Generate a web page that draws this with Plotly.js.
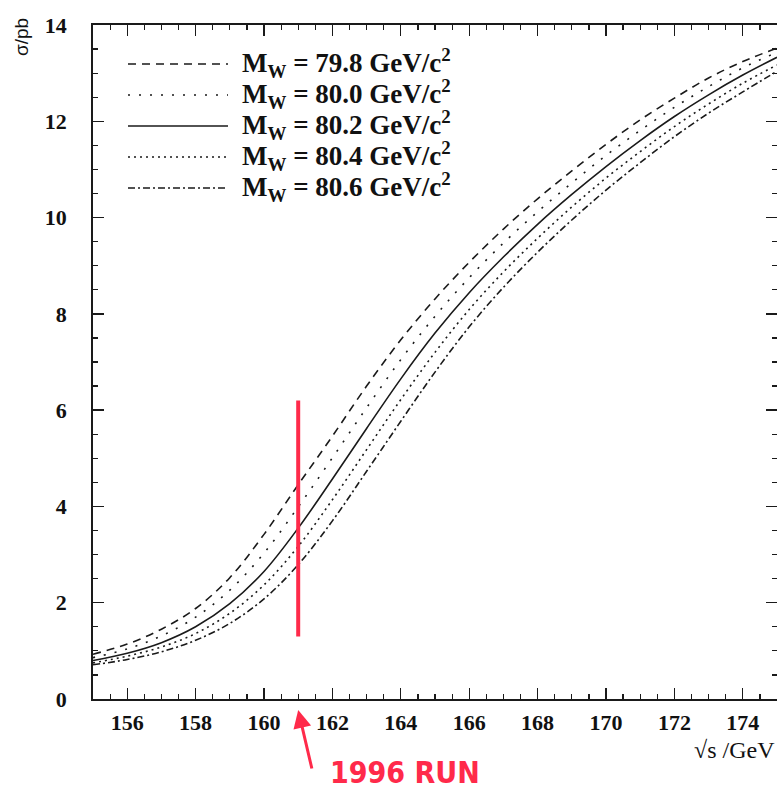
<!DOCTYPE html>
<html>
<head>
<meta charset="utf-8">
<script src="https://cdn.plot.ly/plotly-3.0.1.min.js"></script>
<style>html,body{margin:0;padding:0;background:#fff;}#chart{width:777px;height:793px;}</style>
</head>
<body>
<div id="chart"></div>
<script>
// sqrt(s) in GeV
const sqrtS = [155,156,157,158,159,160,161,162,163,164,165,166,167,168,169,170,171,172,173,174,175];
// cross sections in pb for each W mass
const sigma798 = [0.93,1.14,1.45,1.88,2.52,3.42,4.45,5.46,6.50,7.46,8.31,9.07,9.76,10.39,10.97,11.52,12.03,12.48,12.90,13.24,13.52];
const sigma800 = [0.86,1.04,1.31,1.70,2.26,3.03,3.99,5.01,6.05,7.05,7.95,8.75,9.47,10.12,10.72,11.29,11.81,12.29,12.72,13.11,13.43];
const sigma802 = [0.80,0.95,1.17,1.50,1.98,2.65,3.55,4.57,5.62,6.65,7.60,8.44,9.18,9.86,10.48,11.06,11.60,12.10,12.55,12.96,13.33];
const sigma804 = [0.75,0.89,1.08,1.36,1.78,2.37,3.17,4.14,5.18,6.22,7.20,8.09,8.87,9.57,10.22,10.82,11.37,11.89,12.36,12.79,13.17];
const sigma806 = [0.71,0.82,0.98,1.22,1.57,2.08,2.79,3.70,4.73,5.77,6.79,7.73,8.55,9.28,9.95,10.57,11.14,11.68,12.17,12.61,13.04];
const massLabels = ['79.8','80.0','80.2','80.4','80.6'];
const xTickVals = [156,158,160,162,164,166,168,170,172,174];
const yTickVals = [0,2,4,6,8,10,12,14];
const runEnergy = 161;
const runBand = [1.3, 6.2];

const series = [sigma798, sigma800, sigma802, sigma804, sigma806];
const dashes = ['8px,6px', '2px,9px', 'solid', '2px,4px', '7px,3px,2px,3px'];
const ink = '#1a1a1a';

const traces = series.map((ys, i) => ({
  x: sqrtS, y: ys, type: 'scatter', mode: 'lines',
  line: {color: ink, width: 1.6, dash: dashes[i], shape: 'spline', smoothing: 1},
  name: 'M_W = ' + massLabels[i], showlegend: false, hoverinfo: 'skip'
}));

// manual legend (long sample lines as in the original)
const legShapes = [];
const legAnns = [];
const legRowsPx = [64, 95, 126, 157, 188];
const plotTop = 25, plotBottom = 699, plotLeft = 93, plotW = 684;
const py = p => (plotBottom - p) / (plotBottom - plotTop);
const px = p => (p - plotLeft) / plotW;
massLabels.forEach((m, i) => {
  legShapes.push({type: 'line', xref: 'paper', yref: 'paper',
    x0: px(128), x1: px(228), y0: py(legRowsPx[i]), y1: py(legRowsPx[i]),
    line: {color: ink, width: 1.6, dash: dashes[i]}});
  legAnns.push({xref: 'paper', yref: 'paper', x: px(240), y: py(legRowsPx[i] - 1),
    xanchor: 'left', yanchor: 'middle', showarrow: false,
    text: 'M<sub>W</sub> = ' + m + ' GeV/c<sup>2</sup>',
    font: {family: 'Liberation Serif', size: 27, color: '#111', weight: 'bold'}});
});

const layout = {
  width: 777, height: 793,
  margin: {l: 93, r: 0, t: 25, b: 94},
  paper_bgcolor: '#fff', plot_bgcolor: '#fff',
  showlegend: false,
  xaxis: {
    range: [155, 175], tickvals: xTickVals, ticktext: xTickVals.map(String),
    ticks: 'inside', ticklen: 11, tickwidth: 1.3, tickcolor: ink,
    minor: {dtick: 0.5, tick0: 155, ticks: 'inside', ticklen: 5, tickwidth: 1.2, tickcolor: ink},
    showline: true, linecolor: ink, linewidth: 1.8, mirror: 'ticks',
    showgrid: false, zeroline: false,
    tickfont: {family: 'Liberation Serif', size: 22, color: '#111', weight: 'bold'},
    ticklabelstandoff: 3
  },
  yaxis: {
    range: [0, 14], tickvals: yTickVals, ticktext: yTickVals.map(String),
    ticks: 'inside', ticklen: 11, tickwidth: 1.3, tickcolor: ink,
    minor: {dtick: 0.5, tick0: 0, ticks: 'inside', ticklen: 5, tickwidth: 1.2, tickcolor: ink},
    showline: true, linecolor: ink, linewidth: 1.8, mirror: 'ticks',
    showgrid: false, zeroline: false,
    tickfont: {family: 'Liberation Serif', size: 22, color: '#111', weight: 'bold'},
    ticklabelstandoff: 20
  },
  shapes: legShapes.concat([
    {type: 'line', xref: 'x', yref: 'y', x0: runEnergy, x1: runEnergy, y0: runBand[0], y1: runBand[1],
     line: {color: '#ff2a4a', width: 4}}
  ]),
  annotations: legAnns.concat([
    {xref: 'paper', yref: 'paper', x: px(22), y: py(37), textangle: -90, showarrow: false,
     xanchor: 'center', yanchor: 'middle', text: 'σ/pb',
     font: {family: 'Liberation Sans', size: 19, color: '#111'}},
    {xref: 'paper', yref: 'paper', x: 1.0, y: py(750), showarrow: false,
     xanchor: 'right', yanchor: 'middle', text: '√s /GeV',
     font: {family: 'Liberation Serif', size: 24, color: '#111'}},
    {xref: 'x', yref: 'paper', x: runEnergy, y: py(710), text: '', showarrow: true,
     ax: 14, ay: 60, arrowhead: 2, arrowsize: 1.2, arrowwidth: 3, arrowcolor: '#ff2a4a'},
    {xref: 'paper', yref: 'paper', x: px(405), y: py(773), showarrow: false,
     xanchor: 'center', yanchor: 'middle', text: '1996 RUN',
     font: {family: 'DejaVu Sans Condensed, DejaVu Sans', size: 30, color: '#ff2a4a', weight: 'bold'}}
  ])
};

Plotly.newPlot('chart', traces, layout, {displayModeBar: false, staticPlot: true});
</script>
</body>
</html>
